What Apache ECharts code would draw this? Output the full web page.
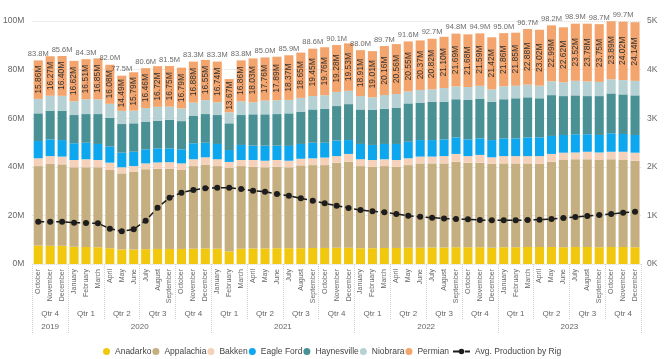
<!DOCTYPE html>
<html>
<head>
<meta charset="utf-8">
<script src="https://cdn.jsdelivr.net/npm/echarts@6/dist/echarts.min.js"></script>
<style>
html,body{margin:0;padding:0;background:#fff;}
#chart{width:665px;height:359px;}
</style>
</head>
<body>
<div id="chart"></div>
<script>
const months = ['October','November','December',
 'January','February','March','April','May','June','July','August','September','October','November','December',
 'January','February','March','April','May','June','July','August','September','October','November','December',
 'January','February','March','April','May','June','July','August','September','October','November','December',
 'January','February','March','April','May','June','July','August','September','October','November','December'];
const quarterLabels = ['Qtr 4','Qtr 1','Qtr 2','Qtr 3','Qtr 4','Qtr 1','Qtr 2','Qtr 3','Qtr 4','Qtr 1','Qtr 2','Qtr 3','Qtr 4','Qtr 1','Qtr 2','Qtr 3','Qtr 4'];
const yearLabels = ['2019','2020','2021','2022','2023'];
const yearMonthCounts = [3,12,12,12,12];

const anadarko = [7.6,7.5,7.5,7.1,7.0,6.9,6.5,6.0,6.0,6.1,6.2,6.2,6.2,6.3,6.4,6.3,5.2,6.3,6.4,6.4,6.5,6.5,6.5,6.6,6.6,6.7,6.7,6.5,6.5,6.6,6.6,6.7,6.7,6.8,6.8,6.9,6.9,6.9,6.7,6.9,6.9,7.0,7.0,7.0,6.9,7.0,7.0,6.9,7.0,7.0,6.9];
const appalachia = [32.7,33.7,33.5,32.7,32.8,32.9,32.2,31.3,32.0,32.9,33.0,33.0,32.5,34.0,34.5,34.0,34.3,34.0,33.6,33.4,33.5,33.3,34.1,34.1,34.1,35.0,35.4,33.8,33.5,33.7,33.4,34.0,34.7,34.6,34.6,35.2,34.8,34.8,34.5,34.5,34.5,34.4,34.2,35.1,35.9,36.1,36.1,35.9,36.1,35.8,35.6];
const bakken = [3.2,3.2,3.2,3.0,3.3,3.0,3.0,2.5,2.3,2.4,2.6,2.7,2.7,2.8,3.0,2.8,2.5,2.5,2.8,2.7,2.8,2.7,2.7,2.8,3.1,2.7,3.2,2.8,2.8,2.8,2.8,2.8,2.8,2.8,3.0,3.2,2.7,3.2,2.7,3.0,3.0,3.0,3.2,3.2,3.0,2.8,3.1,3.1,3.1,3.4,3.3];
const eagleFord = [7.1,6.9,6.8,6.9,6.8,6.6,6.6,6.0,5.9,5.8,5.8,5.7,5.8,6.6,6.0,6.3,4.9,6.2,5.9,6.2,5.9,6.1,6.1,6.4,6.1,6.4,5.7,6.3,6.2,6.3,6.6,6.8,6.8,6.8,6.9,6.8,6.9,6.8,7.1,7.3,7.3,7.7,7.7,7.4,7.3,7.5,7.2,7.2,7.6,7.3,7.3];
const haynesville = [11.4,11.8,12.0,11.6,11.8,12.3,11.9,11.8,11.7,11.4,11.4,11.7,11.6,11.2,11.8,11.9,11.0,12.3,12.9,12.9,13.0,13.4,13.3,13.7,14.0,14.2,14.8,14.2,14.4,14.5,14.8,15.8,15.4,15.7,15.5,15.7,16.2,16.2,15.8,16.1,16.5,16.5,16.1,16.8,16.0,16.0,15.7,16.0,16.4,16.3,16.3];
const niobrara = [5.94,6.13,6.20,5.68,6.09,6.05,5.72,5.41,5.21,5.54,5.68,5.45,5.21,5.52,5.75,5.26,4.53,5.64,4.97,5.64,5.71,5.53,5.65,5.55,5.54,5.82,5.47,5.49,5.19,5.64,5.74,4.95,5.23,5.18,5.60,5.31,5.32,5.41,5.08,5.34,5.15,5.22,5.18,5.71,5.68,5.98,6.02,5.85,5.81,5.88,5.96];
const permian = [15.86,16.27,16.40,16.62,16.51,16.85,16.08,14.49,15.79,16.46,16.72,16.75,16.79,16.88,16.55,16.74,13.67,16.86,18.03,17.76,17.89,18.37,18.65,19.45,19.76,19.28,19.53,18.91,19.01,20.16,20.56,20.55,20.37,20.82,21.10,21.69,21.68,21.59,21.42,21.86,21.85,22.88,23.02,22.99,22.62,23.52,23.78,23.75,23.89,24.02,24.14];
const avgProdByRig = [871,871,871,850,844,837,727,672,713,892,1159,1364,1467,1523,1557,1571,1571,1543,1509,1488,1440,1406,1351,1303,1248,1200,1152,1111,1084,1063,1029,994,973,953,935,926,919,905,899,899,899,905,912,926,947,967,988,1008,1029,1056,1077];
const totalLabelShown = [0,2,4,6,7,9,11,13,15,17,19,21,23,25,27,29,31,33,35,37,39,41,43,45,47,49];

const n = months.length;
const totals = months.map((m,i)=> anadarko[i]+appalachia[i]+bakken[i]+eagleFord[i]+haynesville[i]+niobrara[i]+permian[i]);

const quarterCenters = quarterLabels.map((q,i)=> 1 + 3*i);
const quarterBounds = [];
for (let i=0;i<=quarterLabels.length;i++) quarterBounds.push(-0.5 + 3*i);
const yearCenters = [], yearBounds = [-0.5];
let acc = 0;
yearMonthCounts.forEach(c => { yearCenters.push(acc + (c-1)/2); acc += c; yearBounds.push(acc-0.5); });

const FONT = 'Liberation Sans, Arial, sans-serif';
const grey = '#666666';

const colors = {
  Anadarko:'#F2C80F', Appalachia:'#C5AF80', Bakken:'#F6D1BA', 'Eagle Ford':'#0DA7EF',
  Haynesville:'#4A9196', Niobrara:'#B5D1D3', Permian:'#F3A56D'
};

function barSeries(name, data, extra){
  return Object.assign({
    name, type:'bar', stack:'total', data, xAxisIndex:0, yAxisIndex:0,
    barCategoryGap:'24%', itemStyle:{color:colors[name]}, emphasis:{disabled:true}
  }, extra||{});
}

const legendText = {fontFamily:FONT, fontSize:8.5, color:'#444'};

const chart = echarts.init(document.getElementById('chart'), null, {renderer:'canvas'});
chart.setOption({
  animation:false,
  textStyle:{fontFamily:FONT},
  grid:{left:31.5, right:24, top:21, bottom:95, containLabel:false},
  legend:[
    {top:342, left:98, itemWidth:7, itemHeight:7, itemGap:1, textStyle:legendText,
     data:['Anadarko','Appalachia','Bakken','Eagle Ford','Haynesville','Niobrara','Permian'].map(nm=>({name:nm, icon:'circle'}))},
    {top:342, left:447, itemWidth:17, itemHeight:7, itemGap:0, textStyle:legendText,
     data:['Avg. Production by Rig']}
  ],
  xAxis:[
    {type:'category', data:months, position:'bottom',
     axisLine:{show:false}, axisTick:{show:false},
     axisLabel:{interval:0, rotate:90, fontSize:7, color:grey, margin:5, fontFamily:FONT}},
    {type:'value', min:-0.5, max:n-0.5, position:'bottom',
     axisLine:{show:false}, splitLine:{show:false},
     axisTick:{show:true, customValues:quarterBounds, length:56, lineStyle:{color:'#d0d0d0', type:'dotted', width:1}},
     axisLabel:{customValues:quarterCenters, fontSize:8, color:grey, margin:46, fontFamily:FONT,
       formatter:(v)=> quarterLabels[quarterCenters.indexOf(v)] || ''}},
    {type:'value', min:-0.5, max:n-0.5, position:'bottom',
     axisLine:{show:false}, splitLine:{show:false},
     axisTick:{show:true, customValues:yearBounds, length:70, lineStyle:{color:'#d0d0d0', type:'dotted', width:1}},
     axisLabel:{customValues:yearCenters, fontSize:8, color:grey, margin:59, fontFamily:FONT,
       formatter:(v)=> yearLabels[yearCenters.indexOf(v)] || ''}}
  ],
  yAxis:[
    {type:'value', min:0, max:100, interval:20,
     axisLine:{show:false}, axisTick:{show:false},
     axisLabel:{formatter:(v)=> v+'M', fontSize:8.5, color:grey, margin:8, fontFamily:FONT},
     splitLine:{show:true, lineStyle:{color:'#d9d9d9', type:'dotted', width:1}}},
    {type:'value', min:0, max:5000, interval:1000,
     axisLine:{show:false}, axisTick:{show:false},
     axisLabel:{formatter:(v)=> (v/1000)+'K', fontSize:8.5, color:grey, margin:6, fontFamily:FONT},
     splitLine:{show:false}}
  ],
  series:[
    barSeries('Anadarko', anadarko),
    barSeries('Appalachia', appalachia),
    barSeries('Bakken', bakken),
    barSeries('Eagle Ford', eagleFord),
    barSeries('Haynesville', haynesville),
    barSeries('Niobrara', niobrara),
    barSeries('Permian', permian, {
      label:{show:true, position:'inside', rotate:90, fontSize:8.5, color:'#333', fontFamily:FONT,
        formatter:(p)=> p.value.toFixed(2)+'M'}
    }),
    {name:'Total', type:'scatter', xAxisIndex:0, yAxisIndex:0, symbolSize:1,
     itemStyle:{color:'rgba(0,0,0,0)'}, silent:true, z:5,
     data: totals.map((t,i)=> ({value:t, label:{show: totalLabelShown.indexOf(i)>=0}})),
     label:{position:'top', distance:2, fontSize:7.5, color:'#444', fontFamily:FONT,
       formatter:(p)=> p.value.toFixed(1)+'M'}},
    {name:'Avg. Production by Rig', type:'line', xAxisIndex:0, yAxisIndex:1, data:avgProdByRig,
     symbol:'circle', symbolSize:6, z:10,
     lineStyle:{color:'#1d1d1d', width:1.5, type:'dashed'},
     itemStyle:{color:'#1d1d1d'}}
  ]
});
</script>
</body>
</html>
